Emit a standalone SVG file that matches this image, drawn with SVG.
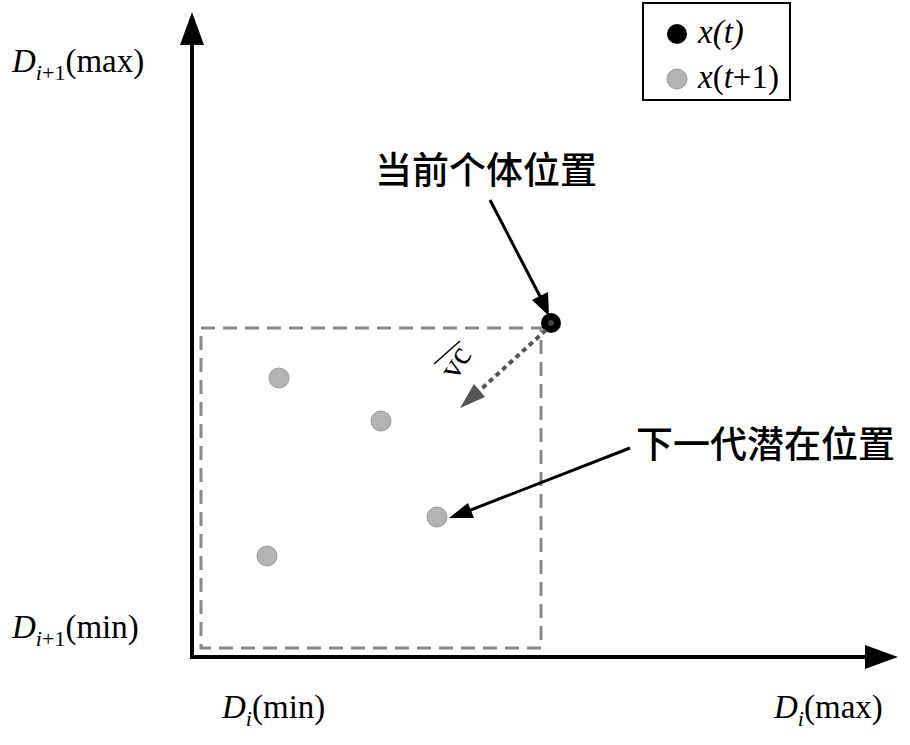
<svg xmlns="http://www.w3.org/2000/svg" width="910" height="745" viewBox="0 0 910 745">
<style>
.t{font-family:"Liberation Serif",serif;font-size:33px;fill:#000}
.cn{font-family:"Noto Sans CJK SC",sans-serif;font-size:37px;font-weight:500;fill:#000}
.g{fill:#b3b3b3;stroke:#999;stroke-width:1}
</style>
<rect width="910" height="745" fill="#fff"/>
<g id="axes">
<path d="M192,657V40" stroke="#000" stroke-width="4"/>
<path d="M192,12L180,45H204z" fill="#000"/>
<path d="M190,657H870" stroke="#000" stroke-width="4"/>
<path d="M898,657L865,645V669z" fill="#000"/>
</g>
<g id="box"><rect x="201" y="328" width="340" height="320" fill="none" stroke="#888" stroke-width="3" stroke-dasharray="14,8"/></g>
<g id="legend">
<rect x="643" y="3" width="147" height="97" fill="#fff" stroke="#000" stroke-width="2"/>
<circle cx="677" cy="34" r="10" fill="#000"/><text class="t" x="698" y="43" font-style="italic">x(t)</text>
<circle cx="677" cy="79" r="10" class="g"/><text class="t" x="698" y="88"><tspan font-style="italic">x</tspan>(<tspan font-style="italic">t</tspan>+1)</text>
</g>
<g id="labels">
<text class="t" x="12" y="72"><tspan font-style="italic">D</tspan><tspan font-style="italic" font-size="22" dy="8">i</tspan><tspan font-size="22">+1</tspan><tspan dy="-8">(max)</tspan></text>
<text class="t" x="12" y="638"><tspan font-style="italic">D</tspan><tspan font-style="italic" font-size="22" dy="8">i</tspan><tspan font-size="22">+1</tspan><tspan dy="-8">(min)</tspan></text>
<text class="t" x="222" y="718"><tspan font-style="italic">D</tspan><tspan font-style="italic" font-size="22" dy="8">i</tspan><tspan dy="-8">(min)</tspan></text>
<text class="t" x="774" y="718"><tspan font-style="italic">D</tspan><tspan font-style="italic" font-size="22" dy="8">i</tspan><tspan dy="-8">(max)</tspan></text>
<text class="cn" x="375" y="184">当前个体位置</text>
<text class="cn" x="636" y="458">下一代潜在位置</text>
<text class="t" font-size="34" transform="translate(456,381) rotate(-58)">vc</text>
<path d="M434,364L460,341" stroke="#000" stroke-width="1.5"/>
</g>
<g id="points">
<circle cx="551" cy="323" r="10" fill="#000"/><circle cx="551" cy="323" r="3" fill="#444"/>
<circle cx="279" cy="378" r="10" class="g"/>
<circle cx="381" cy="421" r="10" class="g"/>
<circle cx="437" cy="517" r="10" class="g"/>
<circle cx="267" cy="556" r="10" class="g"/>
</g>
<g id="connectors">
<path d="M490,200L545,306" stroke="#000" stroke-width="3"/><path d="M549,316L532,300L548,292z" fill="#000"/>
<path d="M630,448L463,513" stroke="#000" stroke-width="3"/><path d="M449,518L468,503L474,518z" fill="#000"/>
<path d="M546,330L478,392" stroke="#555" stroke-width="4" stroke-dasharray="5,4"/><path d="M460,408L474,384L485,397z" fill="#555"/>
</g>
</svg>
